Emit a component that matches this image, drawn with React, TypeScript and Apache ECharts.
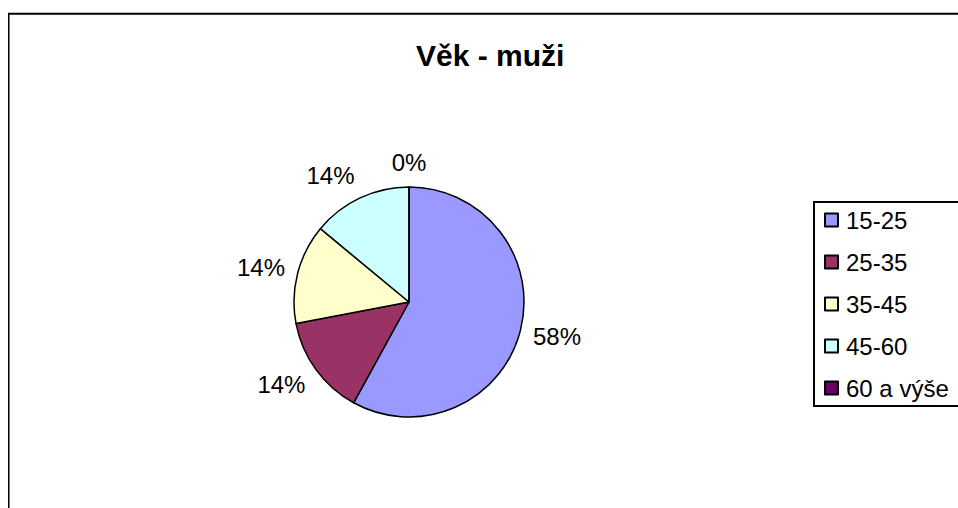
import React, { useEffect, useRef } from "react";
import * as echarts from "echarts";

const categories = ["15-25", "25-35", "35-45", "45-60", "60 a výše"];
const values = [58, 14, 14, 14, 0];
const colors = ["#9999FF", "#993366", "#FFFFCC", "#CCFFFF", "#660066"];
const title = "Věk - muži";

export default function App() {
  const ref = useRef<HTMLDivElement>(null);
  useEffect(() => {
    if (!ref.current) return;
    const chart = echarts.init(ref.current, null, { renderer: "svg" });
    const font = "Arial, 'Liberation Sans', sans-serif";
    const cx = 401;
    const cy = 294;
    const radius = 115;
    const gap = 13;
    const total = values.reduce((a, b) => a + b, 0);
    let acc = 0;
    const mids = values.map((v) => {
      const m = ((acc + v / 2) / total) * Math.PI * 2;
      acc += v;
      return m;
    });
    chart.setOption({
      animation: false,
      backgroundColor: "#fff",
      title: {
        text: title,
        left: 408,
        top: 32,
        padding: 0,
        textStyle: {
          fontSize: 30,
          lineHeight: 30,
          fontWeight: "bold",
          fontFamily: font,
          color: "#000",
        },
      },
      graphic: [
        {
          type: "rect",
          shape: { x: 0.5, y: 5.7, width: 1100, height: 700 },
          style: { fill: "none", stroke: "#000", lineWidth: 2 },
          silent: true,
        },
      ],
      legend: {
        orient: "vertical",
        left: 806,
        top: 194,
        borderColor: "#000",
        borderWidth: 2,
        padding: [5, 60, 5, 10],
        itemWidth: 13,
        itemHeight: 13,
        itemGap: 16,
        icon: "rect",
        textStyle: {
          fontSize: 24,
          fontFamily: font,
          color: "#000",
          lineHeight: 26,
          padding: [0, 0, 0, 3],
        },
        data: categories,
      },
      series: [
        {
          type: "pie",
          center: [cx, cy],
          radius: radius,
          startAngle: 90,
          clockwise: true,
          avoidLabelOverlap: false,
          percentPrecision: 0,
          itemStyle: { borderColor: "#000", borderWidth: 1.5 },
          label: {
            show: true,
            position: "outside",
            formatter: "{d}%",
            fontSize: 24,
            fontFamily: font,
            color: "#000",
          },
          labelLine: { show: false, length: 10, length2: 0 },
          labelLayout: (p: any) => {
            const a = mids[p.dataIndex];
            const dx = Math.sin(a);
            const dy = -Math.cos(a);
            const w = p.labelRect.width;
            const h = p.labelRect.height;
            const R = radius + gap;
            const sx = Math.max(-1, Math.min(1, dx * 4));
            return {
              x: cx + dx * R + (sx * w) / 2,
              y: cy + dy * R + (dy * h) / 2,
              align: "center",
              verticalAlign: "middle",
            };
          },
          emphasis: { disabled: true },
          data: categories.map((c, i) => ({
            name: c,
            value: values[i],
            itemStyle: { color: colors[i] },
          })),
        },
      ],
    });
    return () => chart.dispose();
  }, []);
  return (
    <div
      style={{
        position: "fixed",
        left: 8,
        top: 8,
        right: 0,
        bottom: 0,
        overflow: "hidden",
      }}
    >
      <div ref={ref} style={{ width: 1000, height: 560 }} />
    </div>
  );
}
